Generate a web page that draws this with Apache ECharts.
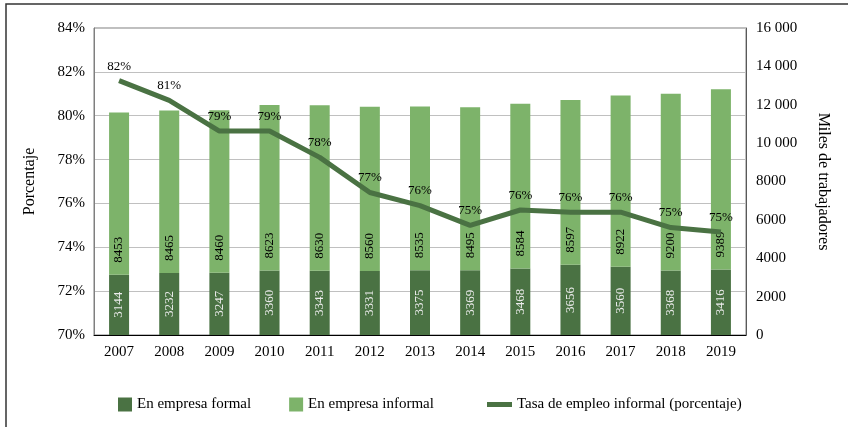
<!DOCTYPE html>
<html>
<head>
<meta charset="utf-8">
<script src="https://cdn.jsdelivr.net/npm/echarts@6/dist/echarts.min.js"></script>
<style>
	html, body { margin: 0; padding: 0; background: #fff; }
	#chart { width: 848px; height: 427px; }
</style>
</head>
<body>
<div id="chart"></div>
<script>
	var years = ['2007', '2008', '2009', '2010', '2011', '2012', '2013', '2014', '2015', '2016', '2017', '2018', '2019'];
	var formal = [3144, 3232, 3247, 3360, 3343, 3331, 3375, 3369, 3468, 3656, 3560, 3368, 3416];
	var informal = [8453, 8465, 8460, 8623, 8630, 8560, 8535, 8495, 8584, 8597, 8922, 9200, 9389];
	var tasa = [81.6, 80.7, 79.3, 79.3, 78.1, 76.5, 75.9, 75.0, 75.7, 75.6, 75.6, 74.9, 74.7];

	var chart = echarts.init(document.getElementById('chart'));

	const darkGreen = '#4a7243';
	const lightGreen = '#7db36a';
	const font = '"Liberation Serif", "Times New Roman", serif';

	option = {
		backgroundColor: '#fff',
		textStyle: { fontFamily: font, color: '#000' },
		graphic: [{
			type: 'rect',
			shape: { x: 6, y: 4, width: 900, height: 500 },
			style: { fill: 'none', stroke: '#333', lineWidth: 1.5 },
			silent: true
		}],
		grid: {
			left: 94,
			right: 102,
			top: 28,
			bottom: 92,
			show: true,
			borderColor: '#7f7f7f',
			borderWidth: 1
		},
		legend: [{
			data: ['En empresa formal', 'En empresa informal'],
			left: 113,
			top: 392,
			icon: 'rect',
			itemWidth: 14,
			itemHeight: 14,
			itemGap: 38,
			textStyle: { fontFamily: font, fontSize: 15, color: '#000' }
		}, {
			data: ['Tasa de empleo informal (porcentaje)'],
			left: 482,
			top: 392,
			icon: 'rect',
			itemWidth: 25,
			itemHeight: 5,
			textStyle: { fontFamily: font, fontSize: 15, color: '#000' }
		}],
		xAxis: {
			type: 'category',
			data: years,
			axisTick: { show: false },
			axisLine: { lineStyle: { color: '#000', width: 1 } },
			axisLabel: { fontFamily: font, fontSize: 15, color: '#000', margin: 10 }
		},
		yAxis: [{
			type: 'value',
			min: 70,
			max: 84,
			interval: 2,
			name: 'Porcentaje',
			nameLocation: 'middle',
			nameGap: 56,
			nameTextStyle: { fontFamily: font, fontSize: 16, color: '#000' },
			axisLabel: { formatter: '{value}%', fontFamily: font, fontSize: 15, color: '#000', margin: 9 },
			axisLine: { show: true, lineStyle: { color: '#7f7f7f' } },
			axisTick: { show: false },
			splitLine: { lineStyle: { color: '#c0c0c0' } }
		}, {
			type: 'value',
			min: 0,
			max: 16000,
			interval: 2000,
			name: 'Miles de trabajadores',
			nameLocation: 'middle',
			nameGap: 69,
			nameRotate: -90,
			nameTextStyle: { fontFamily: font, fontSize: 16, color: '#000' },
			axisLabel: {
				fontFamily: font,
				fontSize: 15,
				color: '#000',
				margin: 10,
				formatter: function(v) {
					return v >= 10000 ? Math.floor(v / 1000) + ' ' + String(v % 1000).padStart(3, '0') : String(v);
				}
			},
			axisLine: { show: true, lineStyle: { color: '#595959' } },
			axisTick: { show: false },
			splitLine: { show: false }
		}],
		series: [{
			name: 'En empresa formal',
			type: 'bar',
			stack: 'total',
			yAxisIndex: 1,
			barWidth: 20,
			itemStyle: { color: darkGreen },
			label: {
				show: true,
				position: 'inside',
				rotate: 90,
				fontFamily: font,
				fontSize: 13,
				color: '#ececec'
			},
			data: formal
		}, {
			name: 'En empresa informal',
			type: 'bar',
			stack: 'total',
			yAxisIndex: 1,
			barWidth: 20,
			itemStyle: { color: lightGreen },
			label: {
				show: true,
				position: 'insideBottom',
				distance: 12,
				rotate: 90,
				align: 'left',
				verticalAlign: 'middle',
				fontFamily: font,
				fontSize: 13,
				color: '#000'
			},
			data: informal
		}, {
			name: 'Tasa de empleo informal (porcentaje)',
			type: 'line',
			yAxisIndex: 0,
			symbol: 'circle',
			symbolSize: 0.1,
			z: 5,
			lineStyle: { color: darkGreen, width: 5 },
			itemStyle: { color: darkGreen },
			label: {
				show: true,
				position: 'top',
				distance: 8,
				fontFamily: font,
				fontSize: 13,
				color: '#000',
				formatter: function(p) { return Math.round(p.value) + '%'; }
			},
			data: tasa
		}]
	};

	chart.setOption(option);

	window.onresize = function() {
		chart.resize();
	}
</script>
</body>
</html>
